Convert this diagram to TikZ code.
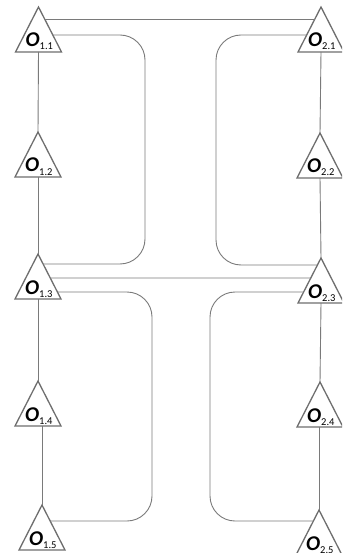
\documentclass[tikz,border=0pt]{standalone}
\usepackage{fontspec}
\setmainfont{Carlito}
\usetikzlibrary{calc}
\definecolor{tricol}{HTML}{6E6E6E}
\definecolor{linecol}{HTML}{7A7A7A}
\tikzset{
  tri/.style={draw=tricol, line width=1.3pt, line join=miter, fill=white},
  conn/.style={draw=linecol, line width=0.9pt, rounded corners=25pt},
  lbl/.style={anchor=base west, inner sep=0pt, text=black},
}
\newcommand{\otri}[4]{%
  \coordinate (#1) at (#2,#3);
  \coordinate (#1-l) at ($(#1)+(-23,45)$);
  \coordinate (#1-r) at ($(#1)+(23,45)$);
  \coordinate (#1-b) at ($(#1)+(0,45)$);
  \draw[tri] (#1) -- (#1-l) -- (#1-r) -- cycle;
  \node[lbl] (#1-t) at ($(#1)+(-13,40)$) {{\fontsize{21}{21}\selectfont\bfseries\itshape O}\raisebox{-3pt}{\fontsize{10.5}{10.5}\selectfont #4}};
}
\newcommand{\er}[2]{($(#1)!#2/45!(#1-r)$)}
\newcommand{\el}[2]{($(#1)!#2/45!(#1-l)$)}
\begin{document}
\begin{tikzpicture}[x=1pt,y=-1pt]
\useasboundingbox (0,0) rectangle (342,553);
\begin{scope}
\clip (0,0) rectangle (342,553);
\otri{o11}{38.5}{7}{1.1}
\otri{o21}{321}{7}{2.1}
\otri{o12}{38}{132}{1.2}
\otri{o22}{320}{133}{2.2}
\otri{o13}{38}{254}{1.3}
\otri{o23}{321}{258}{2.3}
\otri{o14}{38}{381}{1.4}
\otri{o24}{320}{382}{2.4}
\otri{o15}{42}{505}{1.5}
\otri{o25}{319}{510}{2.5}
% verticals
\draw[conn] (o11-b) -- (o12);
\draw[conn] (o12-b) -- (o13);
\draw[conn] (o13-b) -- (o14);
\draw[conn] (o15 |- o14-b) -- (o15);
\draw[conn] (o21-b) -- (o22);
\draw[conn] (o22-b) -- (o23);
\draw[conn] (o23-b) -- (o24);
\draw[conn] (o25 |- o24-b) -- (o25);
% horizontals
\draw[conn] \er{o11}{12} -- \el{o21}{12};
\draw[conn] \er{o13}{24} -- \el{o23}{20};
% loops
\draw[conn] \er{o11}{28} -| (145,150) |- \er{o13}{10};
\draw[conn] \el{o21}{28} -| (216,150) |- \el{o23}{7};
\draw[conn] \er{o13}{38} -| (152,400) |- \er{o15}{16};
\draw[conn] \el{o23}{34} -| (210,400) |- \el{o25}{11};
\end{scope}
\end{tikzpicture}
\end{document}
